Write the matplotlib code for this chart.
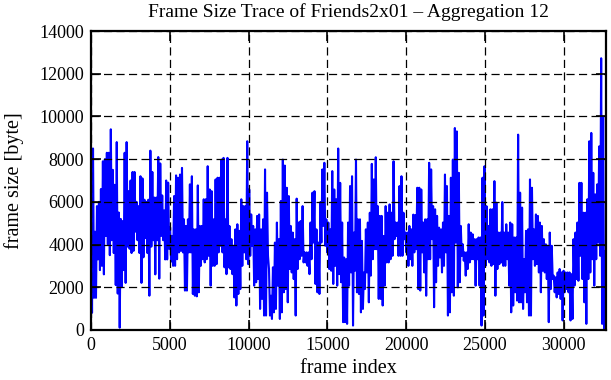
import numpy as np
import matplotlib
matplotlib.use('Agg')
import matplotlib.pyplot as plt

plt.rcParams['font.family'] = ['Liberation Serif', 'DejaVu Serif']

# frame size readings (byte), read left to right off the trace
sizes = [
    # 0 - 5400
    7400, 800, 8500, 1500, 4600, 1500, 5800, 3300, 6000, 2800, 6600, 3000,
    7900, 2600, 8000, 4400, 8300, 4000, 8300, 3500, 9400, 4200, 7500, 3600,
    6800, 2100, 8800, 1700, 5500, 100, 5200, 2000, 5100, 2800, 8300, 2200,
    8800, 3900, 6500, 3800, 7000, 3600, 7400, 3700, 7400, 4600, 6000, 4200,
    5800, 3600, 7200, 2200, 7100, 3400, 6100, 4300, 6000, 3600, 6100, 1600,
    8400, 3900, 7400, 4200, 6200, 2600, 6200, 4200, 8100, 2400, 7800, 4400,
    6300, 4200, 5600, 3300, 7000, 3300, 6900, 3800, 4800, 3200, 4400, 3000,
    # 5400 - 10800
    6270, 3000, 7240, 3310, 7130, 3630, 7280, 3700, 7590, 3630, 5180, 1840,
    4870, 1840, 5180, 3630, 6820, 3630, 7200, 1680, 4710, 1600, 4710, 1570,
    6770, 1760, 4870, 3000, 4870, 3310, 6120, 3160, 6120, 3310, 7670, 3470,
    6580, 2070, 6500, 3000, 5180, 3000, 7050, 3080, 7130, 3630, 7130, 3940,
    7980, 3630, 8060, 2930, 5180, 2610, 8060, 2930, 4870, 2850, 4250, 2610,
    3940, 1520, 4710, 1140, 4950, 1680, 4640, 1910, 6120, 3000, 5800, 3630,
    5800, 3310, 8840, 3080, 6580, 3470, 5410, 3940, 4870, 2070, 4710, 2230,
    5340, 2380,
    # 10800 - 16200
    5410, 980, 4710, 1450, 5180, 670, 7520, 670, 6430, 3470, 2850, 670,
    1600, 510, 2930, 820, 4090, 980, 5030, 2070, 4250, 510, 6040, 820,
    7980, 1760, 7700, 1910, 6660, 1290, 6270, 2850, 4870, 2690, 4560, 2380,
    4250, 670, 6150, 2850, 5030, 3310, 5100, 3470, 5800, 3160, 3630, 3160,
    3630, 3000, 3630, 2610, 5030, 3310, 6430, 4090, 6500, 2150, 4710, 1760,
    4090, 1680, 5990, 4090, 7520, 4870, 7830, 3940, 5180, 3630, 5030, 2850,
    4710, 2770, 7440, 2150, 6580, 3000, 6120, 2070, 8500, 2610, 6890, 2230,
    5030, 360,
    # 16200 - 21600
    3390, 360, 3310, 280, 5030, 2070, 6740, 2690, 7200, 200, 4560, 2770,
    7980, 1760, 5180, 1680, 5180, 820, 4170, 980, 2690, 1910, 4710, 2690,
    5030, 1290, 5490, 2540, 7780, 3310, 7050, 3780, 8090, 3780, 5800, 1450,
    5340, 1450, 5340, 1140, 4400, 2070, 5800, 3160, 5490, 3160, 5880, 3310,
    5490, 3470, 7900, 4250, 5030, 4400, 5030, 3470, 6740, 3470, 7200, 3470,
    5490, 4250, 4560, 3630, 4560, 3000, 4870, 3310, 4710, 3000, 5400, 3630,
    5380, 3780, 6660, 1910, 6660, 1840, 6580, 3630, 5030, 2690, 5180, 1600,
    5180, 3310,
    # 21600 - 27000
    7830, 3310, 7520, 4250, 5800, 1060, 5650, 2230, 5340, 3000, 4790, 3390,
    4710, 2690, 5030, 3000, 7280, 3630, 6740, 670, 5340, 820, 7130, 1760,
    7980, 1600, 9460, 4090, 9300, 1990, 7360, 2230, 4870, 3470, 4010, 3240,
    3630, 2540, 3630, 2850, 4950, 3160, 4560, 3310, 4480, 3310, 4250, 2070,
    4250, 3310, 4330, 2070, 4330, 200, 7130, 670, 7670, 3000, 5800, 3310,
    4870, 3160, 5650, 3000, 5650, 3080, 6970, 1600, 5960, 2850, 4560, 3080,
    4560, 3160, 5990, 3000, 4560, 3000, 4950, 3310, 4560, 2070, 5030, 820,
    4950, 1140,
    # 27000 - end
    4330, 1760, 4330, 1370, 9150, 1290, 6430, 1290, 5730, 980, 3310, 1760,
    4640, 1290, 4710, 670, 7050, 670, 6660, 3310, 4710, 3000, 5410, 3080,
    5340, 2690, 5030, 1760, 4870, 2770, 4250, 2690, 4010, 2380, 3940, 360,
    4560, 1910, 3940, 2380, 2540, 1760, 2460, 1520, 2690, 1680, 2850, 1450,
    2690, 440, 2770, 1760, 2690, 1910, 2690, 1760, 2690, 440, 2610, 510,
    4250, 2070, 4560, 2380, 5030, 2300, 6890, 3470, 6890, 2380, 5490, 1290,
    5490, 280, 6120, 2380, 8840, 2690, 9230, 3310, 7360, 2070, 6350, 3310,
    6820, 4090, 8600, 3470, 12730, 280, 10000, 50, 3700, 0,
]
last_frame = 32700
frames = np.linspace(0, last_frame, len(sizes))

fig = plt.figure(figsize=(6.11, 3.80), dpi=100)
ax = fig.add_axes([0.149, 0.132, 0.843, 0.786])
ax.plot(frames, sizes, color='#0000ff', lw=1.5, zorder=1)

ax.set_xlim(0, last_frame)
ax.set_ylim(0, 14000)
ax.set_xticks(np.arange(0, 30001, 5000))
ax.set_yticks(np.arange(0, 14001, 2000))
ax.set_axisbelow(False)
ax.grid(True, color='black', linestyle=(0, (6.5, 3.5)), linewidth=0.9)
ax.tick_params(direction='in', top=True, right=True, length=7, width=1.2,
               labelsize=13, pad=5)
for s in ax.spines.values():
    s.set_linewidth(1.6)
    s.set_zorder(5)

ax.set_title('Frame Size Trace of Friends2x01 – Aggregation 12', fontsize=14, pad=10)
ax.set_xlabel('frame index', fontsize=14.5, labelpad=4)
ax.set_ylabel('frame size [byte]', fontsize=14.5, labelpad=11)

plt.savefig('out.png', dpi=100)
